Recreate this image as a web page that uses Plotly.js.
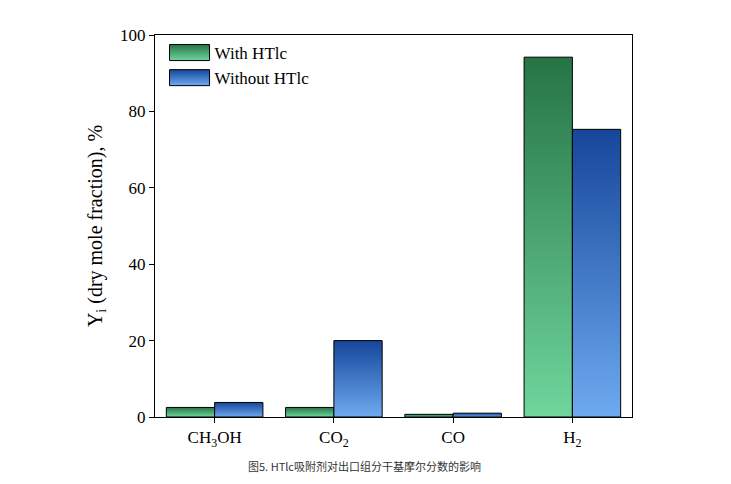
<!DOCTYPE html>
<html>
<head>
<meta charset="utf-8">
<script src="https://cdn.plot.ly/plotly-3.0.1.min.js"></script>
<style>body{margin:0;background:#fff}</style>
</head>
<body>
<div id="chart" style="width:731px;height:484px"></div>
<script>
const categories = ['CH<sub>3</sub>OH', 'CO<sub>2</sub>', 'CO', 'H<sub>2</sub>'];
const with_htlc = [2.5, 2.5, 0.7, 94.2];
const without_htlc = [3.8, 20.0, 1.0, 75.3];
const y_ticks = [0, 20, 40, 60, 80, 100];

const font = {family: 'Liberation Serif, Times New Roman, serif', size: 17, color: '#000'};

let traces = [
    {x: categories, y: with_htlc, name: 'With HTlc', type: 'bar',
     marker: {color: '#4caf78', line: {color: '#000', width: 1}}},
    {x: categories, y: without_htlc, name: 'Without HTlc', type: 'bar',
     marker: {color: '#3d78d0', line: {color: '#000', width: 1}}},
];

let layout = {
    width: 731, height: 484,
    margin: {l: 155, r: 99, t: 35, b: 67},
    font: font,
    showlegend: true,
    legend: {x: 0.02, y: 1.0, xanchor: 'left', yanchor: 'top', bgcolor: 'rgba(0,0,0,0)', font: font,
             itemwidth: 40},
    bargap: 0.19,
    barmode: 'group',
    xaxis: {showline: true, mirror: true, linecolor: '#000', linewidth: 1, ticks: 'outside',
            tickcolor: '#000', ticklen: 5, tickfont: font, range: [-0.5, 3.5]},
    yaxis: {range: [0, 100], tickvals: y_ticks, showline: true, mirror: true, linecolor: '#000',
            linewidth: 1, ticks: 'outside', tickcolor: '#000', ticklen: 5, showgrid: false,
            zeroline: false, tickfont: font,
            title: {text: 'Y<sub>i</sub> (dry mole fraction), %', font: {family: font.family, size: 20}, standoff: 12}},
    annotations: [{text: '图5. HTlc吸附剂对出口组分干基摩尔分数的影响', xref: 'paper', yref: 'paper',
                   x: 0.44, y: -0.155, showarrow: false,
                   font: {family: 'Noto Sans CJK SC, sans-serif', size: 11, color: '#333'}}],
};

// bars need a vertical gradient, Plotly has none, so patch the svg
function add_gradients(gd) {
    let svg = gd.querySelector('svg.main-svg');
    let ns = 'http://www.w3.org/2000/svg';
    let defs = svg.querySelector('defs');
    let grads = [['g_with', '#267446', '#6fd69c'], ['g_without', '#15469a', '#6eaaf0']];
    grads.forEach(([id, top, bot]) => {
        let g = document.createElementNS(ns, 'linearGradient');
        g.id = id;
        g.setAttribute('x1', '0'); g.setAttribute('y1', '0');
        g.setAttribute('x2', '0'); g.setAttribute('y2', '1');
        [[0, top], [1, bot]].forEach(([o, c]) => {
            let s = document.createElementNS(ns, 'stop');
            s.setAttribute('offset', o); s.setAttribute('stop-color', c);
            g.appendChild(s);
        });
        defs.appendChild(g);
    });
    gd.querySelectorAll('.barlayer .trace').forEach((t, i) => {
        t.querySelectorAll('path').forEach(p => p.style.fill = `url(#${grads[i][0]})`);
    });
    gd.querySelectorAll('.legend .traces').forEach((t, i) => {
        t.querySelectorAll('.legendpoints path').forEach(p => {
            p.setAttribute('d', 'M-20,-8h40v16h-40Z');
            p.style.fill = `url(#${grads[i][0]})`;
        });
    });
}

Plotly.newPlot('chart', traces, layout, {staticPlot: true}).then(add_gradients);
</script>
</body>
</html>
